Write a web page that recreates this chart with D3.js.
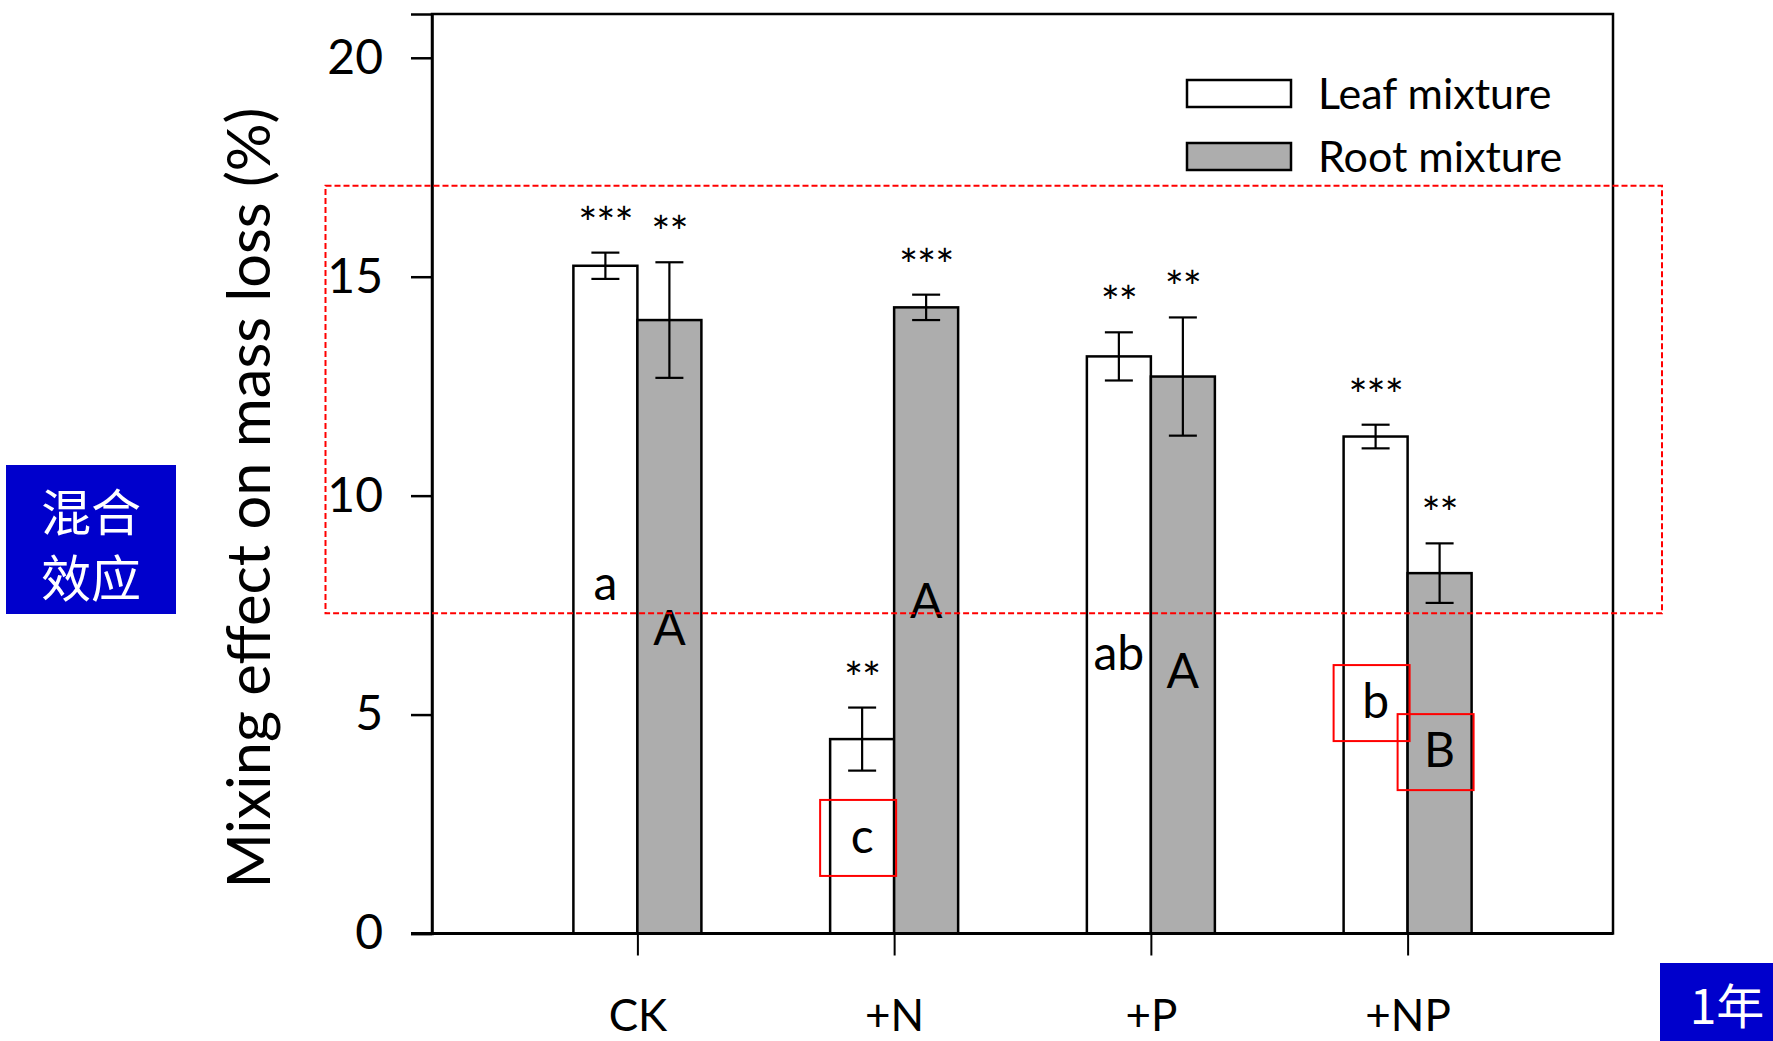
<!DOCTYPE html>
<html>
<head>
<meta charset="utf-8">
<script src="https://cdn.jsdelivr.net/npm/d3@7/dist/d3.min.js"></script>
<style>
  html, body { margin: 0; padding: 0; background: #fff; }
  svg { display: block; }
  text { font-family: Lato, "Open Sans", sans-serif; fill: #000; }
</style>
</head>
<body>
<svg id="chart" width="1773" height="1041"></svg>
<script>
// Treatments and mixing effects (% of mass loss), mean ± SE
const categories = ["CK", "+N", "+P", "+NP"];
const seriesNames = ["Leaf mixture", "Root mixture"];
const leafMeans = [15.25, 4.44, 13.18, 11.35];
const leafErrors = [0.30, 0.72, 0.55, 0.27];
const rootMeans = [14.01, 14.30, 12.72, 8.23];
const rootErrors = [1.32, 0.29, 1.35, 0.68];
const leafStars = ["***", "**", "**", "***"];
const rootStars = ["**", "***", "**", "**"];
const leafLetters = ["a", "c", "ab", "b"];
const rootLetters = ["A", "A", "A", "B"];
const yTicks = [0, 5, 10, 15, 20];

// Layout
const W = 1773, H = 1041;
const plot = { left: 432, right: 1613, top: 14, bottom: 933.5 };
const barW = 64;
// letter baselines, in axis units
const leafLetterLevel = [7.62, 1.84, 6.02, 4.92];
const rootLetterLevel = [6.59, 7.21, 5.61, 3.80];
const leafBoxed = [false, true, false, true];
const rootBoxed = [false, false, false, true];

const svg = d3.select("#chart");
svg.append("rect").attr("width", W).attr("height", H).attr("fill", "#fff");

const x = d3.scalePoint().domain(categories).range([plot.left, plot.right]).padding(0.8);
const y = d3.scaleLinear().domain([0, 21]).range([plot.bottom, plot.top]);

const rows = categories.map((c, i) => ({
  cat: c,
  bars: [
    { key: "leaf", mean: leafMeans[i], err: leafErrors[i], star: leafStars[i], letter: leafLetters[i], level: leafLetterLevel[i], boxed: leafBoxed[i], x0: x(c) - barW, fill: "#ffffff" },
    { key: "root", mean: rootMeans[i], err: rootErrors[i], star: rootStars[i], letter: rootLetters[i], level: rootLetterLevel[i], boxed: rootBoxed[i], x0: x(c), fill: "#adadad" }
  ]
}));
const bars = rows.flatMap(r => r.bars);

// plot frame
svg.append("rect")
  .attr("x", plot.left).attr("y", plot.top)
  .attr("width", plot.right - plot.left).attr("height", plot.bottom - plot.top)
  .attr("fill", "none").attr("stroke", "#000").attr("stroke-width", 2.5);

// bars
svg.append("g").selectAll("rect").data(bars).join("rect")
  .attr("x", d => d.x0)
  .attr("y", d => y(d.mean))
  .attr("width", barW)
  .attr("height", d => y(0) - y(d.mean))
  .attr("fill", d => d.fill)
  .attr("stroke", "#000").attr("stroke-width", 2.5);

// error bars
const eb = svg.append("g").attr("stroke", "#000").attr("stroke-width", 2.2).attr("fill", "none");
bars.forEach(d => {
  const cx = d.x0 + barW / 2;
  const capHalf = 14;
  eb.append("line").attr("x1", cx).attr("x2", cx).attr("y1", y(d.mean + d.err)).attr("y2", y(d.mean - d.err));
  eb.append("line").attr("x1", cx - capHalf).attr("x2", cx + capHalf).attr("y1", y(d.mean + d.err)).attr("y2", y(d.mean + d.err));
  eb.append("line").attr("x1", cx - capHalf).attr("x2", cx + capHalf).attr("y1", y(d.mean - d.err)).attr("y2", y(d.mean - d.err));
});

// significance stars
svg.append("g").selectAll("text").data(bars).join("text")
  .attr("x", d => d.x0 + barW / 2)
  .attr("y", d => y(d.mean + d.err) - 14)
  .attr("text-anchor", "middle")
  .attr("font-size", 45)
  .attr("letter-spacing", -1)
  .text(d => d.star);

// group letters
svg.append("g").selectAll("text").data(bars).join("text")
  .attr("x", d => d.x0 + barW / 2)
  .attr("y", d => y(d.level))
  .attr("text-anchor", "middle")
  .attr("font-size", 48)
  .text(d => d.letter);

// highlight boxes around selected letters
svg.append("g").selectAll("rect").data(bars.filter(d => d.boxed)).join("rect")
  .attr("x", d => d.x0 + barW / 2 - 4 - 38)
  .attr("y", d => y(d.level) - 15 - 38)
  .attr("width", 76).attr("height", 76)
  .attr("fill", "none").attr("stroke", "#ff0000").attr("stroke-width", 2);

// y axis
const yAxis = svg.append("g")
  .attr("transform", `translate(${plot.left},0)`)
  .call(d3.axisLeft(y).tickValues(yTicks).tickSize(21).tickPadding(28).tickFormat(d3.format("d")));
yAxis.select(".domain").attr("stroke", "#000").attr("stroke-width", 2.5);
yAxis.selectAll(".tick line").attr("stroke", "#000").attr("stroke-width", 2.5);
yAxis.selectAll(".tick text").attr("font-size", 48).attr("font-family", "Lato, sans-serif").attr("fill", "#000");

// x axis
const xAxis = svg.append("g")
  .attr("transform", `translate(0,${plot.bottom})`)
  .call(d3.axisBottom(x).tickSize(22));
xAxis.select(".domain").remove();
xAxis.selectAll(".tick line").attr("stroke", "#000").attr("stroke-width", 2);
xAxis.selectAll(".tick text")
  .attr("y", 1031 - plot.bottom).attr("dy", null)
  .attr("font-size", 44).attr("font-family", "Lato, sans-serif").attr("fill", "#000");

// baseline (thicker) from tick end across the frame
svg.append("line")
  .attr("x1", plot.left - 21).attr("x2", plot.right)
  .attr("y1", y(0)).attr("y2", y(0))
  .attr("stroke", "#000").attr("stroke-width", 3.2);

// axis title
svg.append("text")
  .attr("transform", `translate(270,498) rotate(-90)`)
  .attr("text-anchor", "middle")
  .attr("font-size", 60)
  .attr("textLength", 781).attr("lengthAdjust", "spacingAndGlyphs")
  .text("Mixing effect on mass loss (%)");

// legend
const legend = svg.append("g");
const legendFills = ["#ffffff", "#adadad"];
seriesNames.forEach((name, i) => {
  const ly = 80 + i * 63;
  legend.append("rect").attr("x", 1187).attr("y", ly).attr("width", 104).attr("height", 27)
    .attr("fill", legendFills[i]).attr("stroke", "#000").attr("stroke-width", 2.5);
  legend.append("text").attr("x", 1318).attr("y", ly + 29).attr("font-size", 43).text(name);
});

// red dashed highlight region
svg.append("rect")
  .attr("x", 325.5).attr("y", 185.7).attr("width", 1662 - 325.5).attr("height", 613.3 - 185.7)
  .attr("fill", "none").attr("stroke", "#ff0000").attr("stroke-width", 2).attr("stroke-dasharray", "6,3");

// side tags
const tag1 = svg.append("g");
tag1.append("rect").attr("x", 6).attr("y", 465).attr("width", 170).attr("height", 149).attr("fill", "#0000cc");
tag1.append("text").attr("x", 91).attr("y", 531).attr("text-anchor", "middle").attr("font-size", 50)
  .style("font-family", "'Noto Sans CJK SC', sans-serif").style("fill", "#fff").text("混合");
tag1.append("text").attr("x", 91).attr("y", 597).attr("text-anchor", "middle").attr("font-size", 50)
  .style("font-family", "'Noto Sans CJK SC', sans-serif").style("fill", "#fff").text("效应");

const tag2 = svg.append("g");
tag2.append("rect").attr("x", 1660).attr("y", 963).attr("width", 113).attr("height", 78).attr("fill", "#0000cc");
tag2.append("text").attr("x", 1727).attr("y", 1024).attr("text-anchor", "middle").attr("font-size", 48)
  .style("font-family", "'Noto Sans CJK SC', sans-serif").style("fill", "#fff").text("1年");
</script>
</body>
</html>
